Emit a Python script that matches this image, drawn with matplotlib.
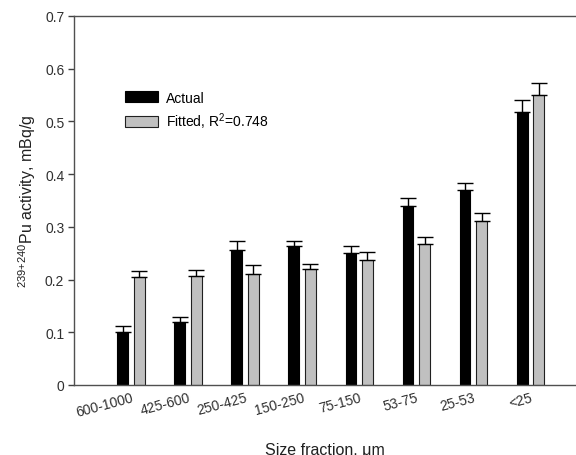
import matplotlib
matplotlib.use("Agg")
import matplotlib.pyplot as plt
import numpy as np

categories = ["600-1000", "425-600", "250-425", "150-250", "75-150", "53-75", "25-53", "<25"]
actual = [0.101, 0.119, 0.256, 0.264, 0.250, 0.339, 0.370, 0.518]
actual_err = [0.011, 0.010, 0.017, 0.009, 0.014, 0.015, 0.014, 0.022]
fitted = [0.204, 0.207, 0.211, 0.220, 0.237, 0.267, 0.311, 0.551]
fitted_err = [0.012, 0.012, 0.017, 0.010, 0.015, 0.014, 0.015, 0.022]
legend_labels = ["Actual", "Fitted, R$^{2}$=0.748"]
yticks = [0, 0.1, 0.2, 0.3, 0.4, 0.5, 0.6, 0.7]

plt.rcParams['font.family'] = ['Liberation Sans', 'DejaVu Sans']
plt.rcParams['mathtext.fontset'] = 'custom'
plt.rcParams['mathtext.rm'] = 'Liberation Sans'
plt.rcParams['mathtext.it'] = 'Liberation Sans:italic'
plt.rcParams['mathtext.bf'] = 'Liberation Sans:bold'

fig = plt.figure(figsize=(5.76, 4.56), dpi=100)
ax = fig.add_axes([74/576, 1-386/456, 1-74/576, (386-17)/456])

x = np.arange(len(categories))
w = 0.19
off = 0.145
ekw = dict(elinewidth=1.0, capthick=1.0, ecolor='black')
ax.bar(x - off, actual, w, color='black', edgecolor='black', linewidth=0.8,
       yerr=[np.zeros(len(actual)), actual_err], capsize=5.5, error_kw=ekw,
       label=legend_labels[0])
ax.bar(x + off, fitted, w, color='#c0c0c0', edgecolor='#202020', linewidth=0.8,
       yerr=[np.zeros(len(fitted)), fitted_err], capsize=5.5, error_kw=ekw,
       label=legend_labels[1])

ax.set_xlim(-1.0, 7.8)
ax.set_ylim(0, 0.7)
ax.set_yticks(yticks)
ax.set_yticklabels([("0" if v == 0 else f"{v:.1f}") for v in yticks], fontsize=10, color='#303030')
ax.set_xticks(x)
ax.set_xticklabels(categories, rotation=15, ha='right', fontsize=10, color='#303030',
                   rotation_mode='anchor')
ax.tick_params(axis='x', length=0, pad=4)
ax.tick_params(axis='y', direction='out', length=4, width=1, color='#404040', pad=3)

for s in ['left', 'bottom', 'top']:
    ax.spines[s].set_color('#505050')
    ax.spines[s].set_linewidth(1.0)
ax.spines['right'].set_visible(False)

ax.set_xlabel("Size fraction, μm", fontsize=11.5, labelpad=16, color='#202020')
ax.set_ylabel(r"$^{239{+}240}$Pu activity, mBq/g", fontsize=11.5, color='#202020', labelpad=5)

leg = ax.legend(loc='upper left', bbox_to_anchor=(0.09, 0.813), frameon=False, fontsize=10,
                handlelength=2.4, handleheight=0.8, handletextpad=0.6, labelspacing=0.45,
                borderaxespad=0)

fig.savefig("out.png", dpi=100)
